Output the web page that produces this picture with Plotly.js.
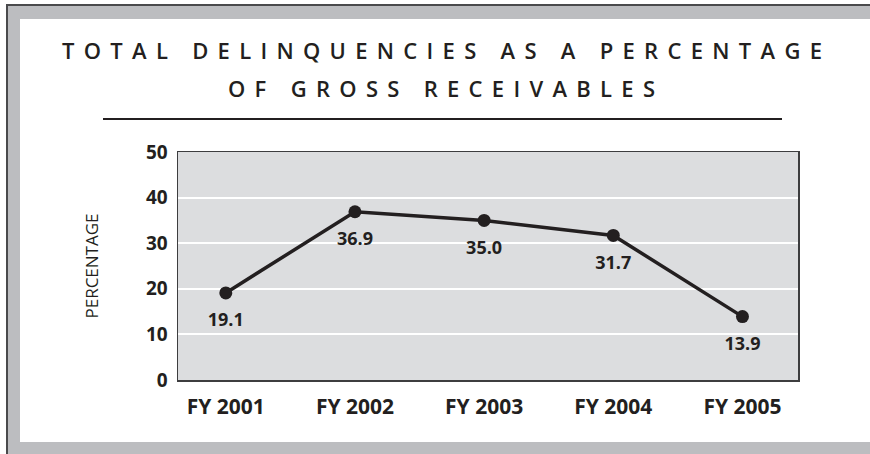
<!DOCTYPE html>
<html>
<head>
<meta charset="utf-8">
<script src="https://cdn.plot.ly/plotly-3.0.1.min.js"></script>
<style>
  html, body { margin: 0; padding: 0; background: #ffffff; overflow: hidden; }
  #chart { width: 870px; height: 454px; }
  /* wide tracking for the heading */
  .annotation-text { letter-spacing: 9.3px; }
</style>
</head>
<body>
<div id="chart"></div>
<script>
// Delinquency data by fiscal year
const years = ['FY 2001', 'FY 2002', 'FY 2003', 'FY 2004', 'FY 2005'];
const delinquencyPct = [19.1, 36.9, 35.0, 31.7, 13.9];
const yTicks = [0, 10, 20, 30, 40, 50];
const titleLines = ['TOTAL DELINQUENCIES AS A PERCENTAGE', 'OF GROSS RECEIVABLES'];
const yAxisLabel = 'PERCENTAGE';

// Page geometry (pixels) and helpers to convert to paper coordinates
const W = 870, H = 454;
const M = { l: 178, r: 72, t: 152, b: 74 };
const pw = W - M.l - M.r, ph = H - M.t - M.b;
const px = x => (x - M.l) / pw;
const py = y => (H - M.b - y) / ph;

const ink = '#231f20';
const frameGray = '#bcbdc0';
const frameLine = '#4a4a4c';
const boldFont = 'Open Sans, DejaVu Sans, sans-serif';

// the line with its point markers
const lineTrace = {
  x: years,
  y: delinquencyPct,
  type: 'scatter',
  mode: 'lines+markers',
  line: { color: ink, width: 3.5 },
  marker: { color: ink, size: 13 },
  cliponaxis: false,
  hoverinfo: 'skip'
};

// value labels set a little below each point (wide invisible marker pushes the text down)
const labelTrace = {
  x: years,
  y: delinquencyPct,
  type: 'scatter',
  mode: 'markers+text',
  marker: { color: 'rgba(0,0,0,0)', size: 30 },
  text: delinquencyPct.map(v => v.toFixed(1)),
  textposition: 'bottom center',
  textfont: { family: boldFont, size: 18, color: ink, weight: 700 },
  cliponaxis: false,
  hoverinfo: 'skip'
};

// grey frame band as a closed path in paper coordinates
const band = (x0, x1, y0, y1) => ({
  type: 'path', xref: 'paper', yref: 'paper', layer: 'below',
  path: `M${px(x0)},${py(y0)} L${px(x1)},${py(y0)} L${px(x1)},${py(y1)} L${px(x0)},${py(y1)} Z`,
  fillcolor: frameGray, line: { width: 0 }
});

const shapes = [
  // grey frame bands: top, left, bottom
  band(7, W, 5, 19),
  band(7, 20, 5, H),
  band(7, W, 442, H),
  // plot area fill
  { type: 'rect', xref: 'paper', yref: 'paper', layer: 'below',
    x0: 0, x1: 1, y0: 0, y1: 1,
    fillcolor: '#dcdddf', line: { width: 0 } },
  // dark frame edges, top and left
  { type: 'line', xref: 'paper', yref: 'paper',
    x0: px(6), x1: px(W), y0: py(5), y1: py(5),
    line: { color: frameLine, width: 2 } },
  { type: 'line', xref: 'paper', yref: 'paper',
    x0: px(7), x1: px(7), y0: py(5), y1: py(H),
    line: { color: frameLine, width: 2 } },
  // rule under the heading
  { type: 'line', xref: 'paper', yref: 'paper',
    x0: px(103), x1: px(782), y0: py(119), y1: py(119),
    line: { color: ink, width: 2 } }
];

const annotations = titleLines.map((t, i) => ({
  text: t, showarrow: false,
  xref: 'paper', yref: 'paper',
  x: px(446), y: py(i === 0 ? 50 : 88),
  xanchor: 'center', yanchor: 'middle',
  font: { family: 'Open Sans, sans-serif', size: 22, color: ink, weight: 600 }
}));

const layout = {
  width: W, height: H,
  margin: M,
  paper_bgcolor: '#ffffff',
  plot_bgcolor: 'rgba(0,0,0,0)',
  showlegend: false,
  shapes: shapes,
  annotations: annotations,
  xaxis: {
    type: 'category',
    range: [-0.37, 4.43],
    showgrid: false, zeroline: false,
    showline: true, mirror: true, linecolor: '#3d3d3f', linewidth: 1.5,
    ticks: '', ticklabelstandoff: 7,
    tickfont: { family: boldFont, size: 21, color: ink, weight: 700 },
    fixedrange: true
  },
  yaxis: {
    range: [0, 50],
    tickvals: yTicks,
    showgrid: true, gridcolor: '#ffffff', gridwidth: 2,
    zeroline: false,
    showline: true, mirror: true, linecolor: '#3d3d3f', linewidth: 1.5,
    ticks: '', ticklabelstandoff: 5,
    tickfont: { family: boldFont, size: 19, color: ink, weight: 700 },
    title: { text: yAxisLabel, standoff: 43,
             font: { family: 'Open Sans, sans-serif', size: 17, color: ink } },
    fixedrange: true
  }
};

Plotly.newPlot('chart', [lineTrace, labelTrace], layout, { displayModeBar: false, staticPlot: true });
</script>
</body>
</html>
